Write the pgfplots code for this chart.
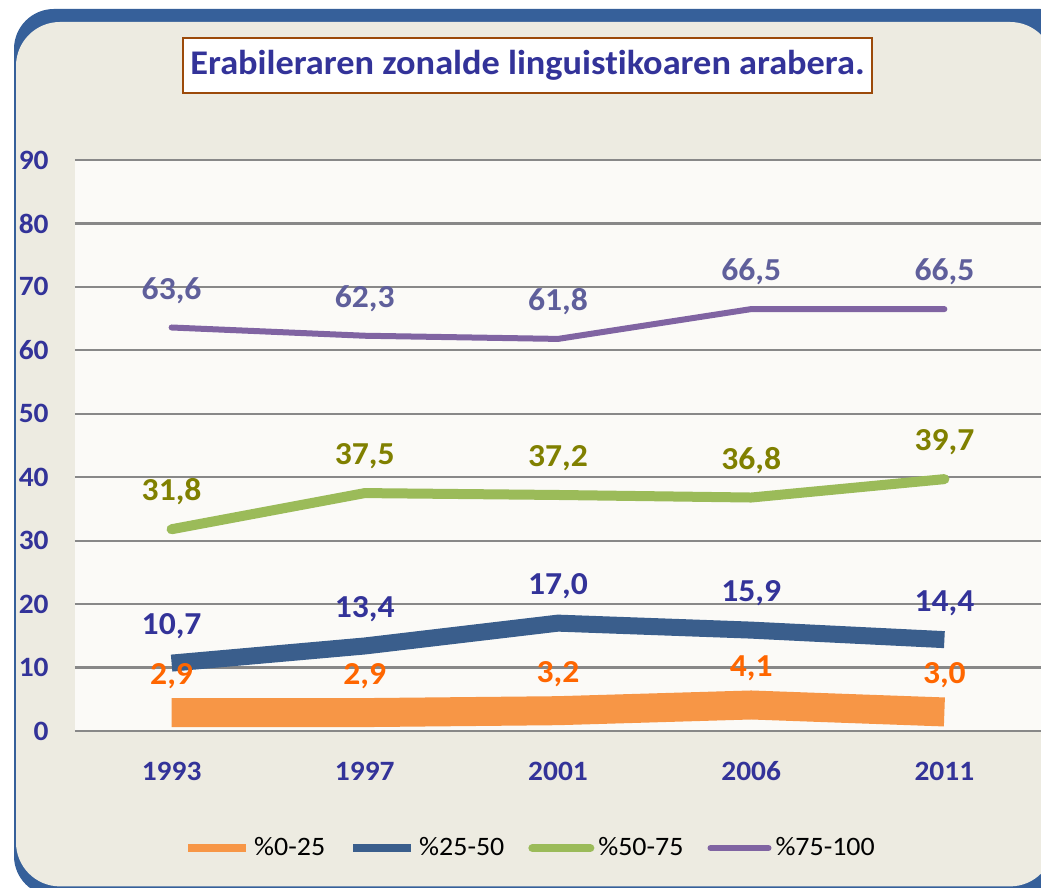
\documentclass[border=0pt]{standalone}
\usepackage{fontspec}
\setmainfont{Carlito}[FakeStretch=1.05, Ligatures=NoCommon]
\usepackage{pgfplots}
\pgfplotsset{compat=1.18}
\usepackage{pgfplotstable}

\definecolor{frameblue}{HTML}{36609A}
\definecolor{outerbg}{HTML}{EDEBE1}
\definecolor{plotbg}{HTML}{FBFAF7}
\definecolor{gridgray}{HTML}{888888}
\definecolor{tickblue}{HTML}{333399}
\definecolor{titlebrown}{HTML}{9C4A0A}
\definecolor{lOrange}{HTML}{F79646}
\definecolor{lBlue}{HTML}{3A5E8C}
\definecolor{lGreen}{HTML}{9BBB59}
\definecolor{lPurple}{HTML}{8064A2}
\definecolor{tOrange}{HTML}{FF6600}
\definecolor{tBlue}{HTML}{333399}
\definecolor{tGreen}{HTML}{808000}
\definecolor{tPurple}{HTML}{5F5F9B}

\pgfplotstableread{
x y l
0 2.9 2,9
1 2.9 2,9
2 3.2 3,2
3 4.1 4,1
4 3.0 3,0
}\tabOrange
\pgfplotstableread{
x y l
0 10.7 10,7
1 13.4 13,4
2 17.0 17,0
3 15.9 15,9
4 14.4 14,4
}\tabBlue
\pgfplotstableread{
x y l
0 31.8 31,8
1 37.5 37,5
2 37.2 37,2
3 36.8 36,8
4 39.7 39,7
}\tabGreen
\pgfplotstableread{
x y l
0 63.6 63,6
1 62.3 62,3
2 61.8 61,8
3 66.5 66,5
4 66.5 66,5
}\tabPurple

\begin{document}
\begin{tikzpicture}
\path[use as bounding box] (0pt,0pt) rectangle (520.5pt,444pt);
\fill[white] (0pt,0pt) rectangle (520.5pt,444pt);
\begin{scope}
\clip (0pt,0pt) rectangle (520.5pt,444pt);
\fill[frameblue, rounded corners=20pt] (7pt,439.5pt) rectangle (540pt,-4pt);
\fill[outerbg, rounded corners=22pt] (8pt,433pt) rectangle (527pt,0.8pt);
\end{scope}

\node[draw=titlebrown, line width=1pt, fill=white, minimum width=344.5pt, minimum height=27.5pt,
      inner sep=0pt, text=tickblue, font=\bfseries\fontsize{17.3}{20}\selectfont]
  at (263.75pt,411.25pt) {Erabileraren zonalde linguistikoaren arabera.};

\begin{axis}[
  at={(37.5pt,78.5pt)}, anchor=south west,
  scale only axis, width=483pt, height=285.5pt,
  xmin=-0.5, xmax=4.5, ymin=0, ymax=90,
  clip=false,
  axis lines*=left,
  axis line style={draw=none},
  tick style={draw=none},
  axis background/.style={fill=plotbg},
  ymajorgrids, major grid style={draw=gridgray, line width=1.1pt},
  ytick={0,10,...,90},
  xtick={0,1,2,3,4},
  xticklabels={1993,1997,2001,2006,2011},
  /pgf/number format/assume math mode=true,
  ticklabel style={font=\bfseries\fontsize{14}{16}\selectfont, text=tickblue, inner sep=0pt},
  yticklabel style={anchor=east, xshift=-13pt},
  xticklabel style={anchor=center, yshift=-20pt},
  legend style={at={(0.4726,-0.205)}, anchor=center, draw=none, fill=none,
    legend columns=4, font=\fontsize{13.3}{15}\selectfont,
    /tikz/every even column/.append style={column sep=10pt},
    legend cell align=left},
  legend image code/.code={\draw[#1] (0pt,0pt) -- (29pt,0pt);},
]
% lines
\addplot[lOrange, line width=14.5pt, line cap=butt, line join=miter, forget plot] table[x=x,y=y] {\tabOrange};
\addplot[lBlue, line width=8.5pt, line cap=butt, line join=miter, forget plot] table[x=x,y=y] {\tabBlue};
\addplot[lGreen, line width=5pt, line cap=round, line join=round, forget plot] table[x=x,y=y] {\tabGreen};
\addplot[lPurple, line width=3pt, line cap=round, line join=round, forget plot] table[x=x,y=y] {\tabPurple};
% labels
\pgfplotsset{lab/.style={draw=none, mark=none, forget plot, nodes near coords, point meta=explicit symbolic,
   nodes near coords style={text=#1, font=\bfseries\fontsize{16}{18}\selectfont, anchor=base, yshift=14.2pt, inner sep=0pt}}}
\addplot[lab=tOrange] table[x=x,y=y,meta=l] {\tabOrange};
\addplot[lab=tBlue] table[x=x,y=y,meta=l] {\tabBlue};
\addplot[lab=tGreen] table[x=x,y=y,meta=l] {\tabGreen};
\addplot[lab=tPurple] table[x=x,y=y,meta=l] {\tabPurple};
% legend
\addlegendimage{lOrange, line width=4pt, line cap=butt}
\addlegendentry{\%0-25}
\addlegendimage{lBlue, line width=4pt, line cap=butt}
\addlegendentry{\%25-50}
\addlegendimage{lGreen, line width=4pt, line cap=round}
\addlegendentry{\%50-75}
\addlegendimage{lPurple, line width=3pt, line cap=round}
\addlegendentry{\%75-100}
\end{axis}
\end{tikzpicture}
\end{document}
